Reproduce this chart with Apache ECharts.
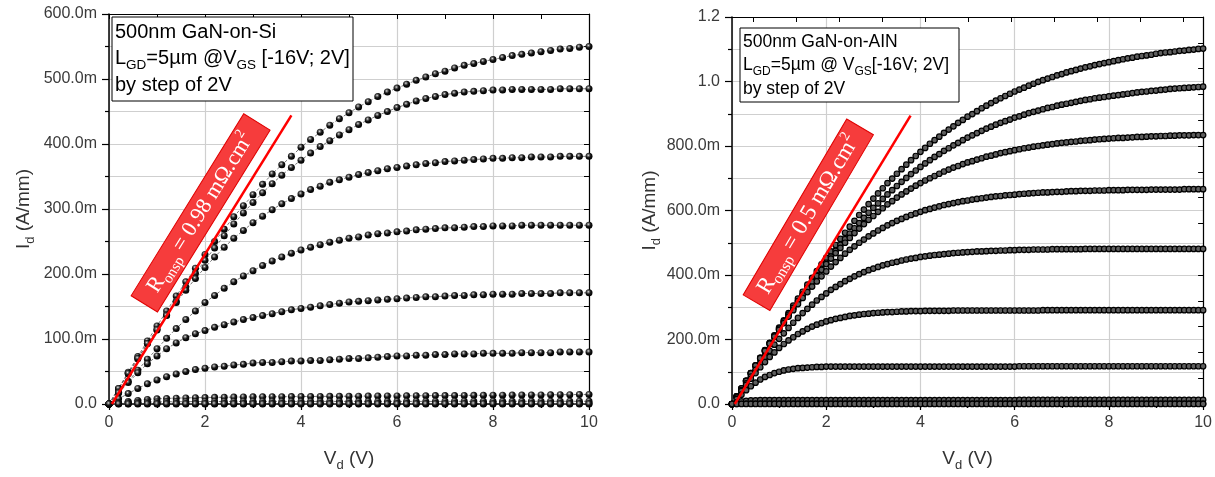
<!DOCTYPE html>
<html><head><meta charset="utf-8">
<script src="https://cdn.jsdelivr.net/npm/echarts@6/dist/echarts.min.js"></script>
<style>html,body{margin:0;padding:0;background:#fff}#c{width:1215px;height:477px}</style>
</head><body><div id="c"></div>
<script>
// ---------- DATA ----------
// Drain voltage sweep (V)
const vdLeft = [0,0.2,0.4,0.6,0.8,1,1.2,1.4,1.6,1.8,2,2.2,2.4,2.6,2.8,3,3.2,3.4,3.6,3.8,4,4.2,4.4,4.6,4.8,5,5.2,5.4,5.6,5.8,6,6.2,6.4,6.6,6.8,7,7.2,7.4,7.6,7.8,8,8.2,8.4,8.6,8.8,9,9.2,9.4,9.6,9.8,10];
const vdRight = [0,0.1,0.2,0.3,0.4,0.5,0.6,0.7,0.8,0.9,1,1.1,1.2,1.3,1.4,1.5,1.6,1.7,1.8,1.9,2,2.1,2.2,2.3,2.4,2.5,2.6,2.7,2.8,2.9,3,3.1,3.2,3.3,3.4,3.5,3.6,3.7,3.8,3.9,4,4.1,4.2,4.3,4.4,4.5,4.6,4.7,4.8,4.9,5,5.1,5.2,5.3,5.4,5.5,5.6,5.7,5.8,5.9,6,6.1,6.2,6.3,6.4,6.5,6.6,6.7,6.8,6.9,7,7.1,7.2,7.3,7.4,7.5,7.6,7.7,7.8,7.9,8,8.1,8.2,8.3,8.4,8.5,8.6,8.7,8.8,8.9,9,9.1,9.2,9.3,9.4,9.5,9.6,9.7,9.8,9.9,10];

// GaN-on-Si, Id (mA/mm), VGS = 2, 0, -2 ... -16 V
const siVgs2   = [0,24,49,73,97,120,143,166,188,209,230,250,269,288,305,322,338,354,368,381,395,407,418,429,439,448,457,465,473,480,486,492,498,503,508,512,517,521,524,527,530,533,536,538,540,542,544,546,547,549,550];
const siVgs0   = [0,23,47,70,93,115,137,158,180,201,221,240,259,277,294,310,325,339,352,364,375,386,396,405,414,422,430,437,444,450,456,461,466,470,473,476,478,480,481,482,483,483,484,484,484,484,484,485,485,485,485];
const siVgsM2  = [0,24,47,70,93,114,136,156,175,193,210,226,241,255,267,279,289,299,308,316,323,330,335,341,345,349,353,356,359,362,364,366,368,370,371,373,374,375,376,377,378,378,379,379,380,380,380,381,381,381,381];
const siVgsM4  = [0,18,35,52,69,85,101,116,130,143,156,167,178,188,197,205,213,220,226,232,237,241,245,249,252,255,257,260,262,263,265,266,268,269,270,271,271,272,273,273,274,274,274,275,275,275,275,275,275,275,275];
const siVgsM6  = [0,17,33,48,62,74,85,94,102,108,113,118,122,126,130,133,136,139,142,145,147,149,151,153,155,157,158,159,160,161,162,163,164,165,165,166,167,167,168,168,169,169,169,170,170,170,170,171,171,171,171];
const siVgsM8  = [0,8,16,24,31,37,42,46,50,53,55,57,58,60,61,63,64,64,65,66,66,67,67,68,69,70,70,71,72,73,74,74,75,75,76,76,77,77,77,78,78,78,78,79,79,79,79,80,80,80,80];
const siVgsM10 = [0,2,4,5.5,7,8,8.6,9,9.4,9.7,10,10.2,10.4,10.6,10.8,11,11.1,11.2,11.3,11.4,11.5,11.6,11.7,11.8,11.9,12,12.1,12.2,12.3,12.4,12.5,12.6,12.7,12.8,12.9,13,13.1,13.2,13.3,13.4,13.5,13.6,13.7,13.8,13.9,14,14.1,14.3,14.4,14.6,14.7];
const siVgsM12 = [0,1.2,2,2.6,3,3.2,3.4,3.5,3.6,3.7,3.8,3.8,3.9,3.9,3.9,4,4,4,4,4,4,4,4,4,4,4,4,4,4,4,4,4,4,4,4,4.1,4.1,4.1,4.1,4.1,4.1,4.1,4.1,4.2,4.2,4.2,4.2,4.2,4.2,4.2,4.2];
const siVgsM14 = [0,0.3,0.5,0.6,0.6,0.6,0.7,0.7,0.7,0.7,0.7,0.7,0.7,0.7,0.7,0.7,0.8,0.8,0.8,0.8,0.8,0.8,0.8,0.8,0.8,0.8,0.8,0.8,0.8,0.8,0.8,0.8,0.8,0.8,0.8,0.8,0.8,0.8,0.8,0.8,0.8,0.8,0.8,0.8,0.8,0.8,0.8,0.8,0.8,0.8,0.8];
const siVgsM16 = [0,0,0,0,0,0,0,0,0,0,0,0,0,0,0,0,0,0,0,0,0,0,0,0,0,0,0,0,0,0,0,0,0,0,0,0,0,0,0,0,0,0,0,0,0,0,0,0,0,0,0];

// GaN-on-AlN, Id (mA/mm)
const alnVgs2   = [0,24,48,72,96,120,143,167,190,213,237,259,282,305,327,348,370,391,412,433,453,473,493,512,531,550,568,586,603,620,637,653,669,685,699,714,728,742,756,769,782,794,807,818,829,841,851,861,872,881,891,899,908,917,925,933,941,948,955,962,969,975,981,987,993,999,1004,1009,1014,1019,1023,1028,1032,1036,1040,1044,1047,1051,1054,1057,1060,1063,1066,1069,1072,1074,1077,1079,1081,1083,1086,1088,1090,1091,1093,1095,1096,1098,1099,1101,1102];
const alnVgs0   = [0,23,47,70,94,117,140,163,186,208,231,253,275,296,318,339,359,380,399,419,438,457,475,493,511,528,545,561,577,593,608,622,636,650,663,676,689,701,713,724,735,746,756,766,775,785,793,802,810,818,826,833,840,847,854,860,866,872,877,882,888,892,897,902,906,910,914,918,921,925,928,931,934,937,940,943,945,948,950,952,954,956,958,960,962,964,966,968,969,971,972,974,975,977,978,979,980,981,982,983,984];
const alnVgsM2  = [0,24,48,72,96,119,143,166,189,211,234,256,277,298,319,339,359,379,397,416,434,451,468,484,500,515,530,544,558,571,583,596,607,619,629,640,650,659,668,677,685,693,700,707,714,721,727,733,738,744,749,753,758,762,767,770,774,778,781,784,787,790,793,795,798,800,802,804,806,808,810,811,813,814,816,817,818,820,821,822,823,824,825,825,826,827,828,828,829,830,830,831,831,832,832,833,833,833,834,834,834];
const alnVgsM4  = [0,24,48,72,95,119,142,165,187,209,230,251,271,291,310,329,347,364,380,396,411,426,440,453,466,478,489,500,510,520,529,538,546,554,561,568,574,580,586,591,596,601,605,609,613,617,620,623,626,629,631,634,636,638,640,642,644,645,647,648,649,651,652,653,654,655,656,656,657,658,658,659,660,660,661,661,661,662,662,662,663,663,663,663,664,664,664,664,664,665,665,665,665,665,665,665,666,666,666,666,666];
const alnVgsM6  = [0,21,43,64,85,106,126,146,165,184,202,219,236,252,267,282,295,308,321,332,343,354,363,372,381,388,396,403,409,415,420,425,430,434,438,441,445,448,451,453,456,458,460,462,463,465,466,468,469,470,471,472,473,473,474,475,475,476,476,477,477,478,478,478,479,479,479,479,480,480,480,480,480,480,480,481,481,481,481,481,481,481,481,481,481,481,481,481,481,481,481,481,481,481,481,481,481,481,481,481,481];
const alnVgsM8  = [0,20,40,59,78,96,114,130,146,160,174,186,197,207,217,225,233,240,246,251,256,260,264,267,270,273,275,277,279,280,282,283,284,285,285,286,287,287,288,288,288,289,289,289,289,289,289,290,290,290,290,290,290,290,290,290,290,290,290,290,290,290,290,290,290,290,291,291,291,291,291,291,291,291,291,291,291,291,291,291,291,291,291,291,291,291,291,291,291,291,291,291,291,291,291,291,291,291,291,291,291];
const alnVgsM10 = [0,15,29,43,55,66,76,84,90,96,100,104,107,109,111,112,113,114,115,115,116,116,116,116,116,116,116,116,116,116,116,116,116,116,116,116,116,116,116,116,116,116,116,116,116,116,116,116,116,116,116,116,116,116,116,116,116,116,116,116,116,117,117,117,117,117,117,117,117,117,117,117,117,117,117,117,117,117,117,117,117,117,117,117,117,117,117,117,117,117,117,117,117,117,117,117,117,117,117,117,117];
const alnVgsM12 = [0,5,8,10,11,11.5,12,12,12,12,12,12,12,12,12,12,12,12,12,12,12,12,12,12,12,12,12,12,12,12,12,12,12,12,12,12,12,12,12,12,12,12,12,12,12,12,12,12,12,12,12,12,12,12,12,12,12,12,12,12,12,12.5,12.5,12.5,12.5,12.5,12.5,12.5,12.5,12.5,12.5,12.5,12.5,12.5,12.5,12.5,12.5,12.5,12.5,12.5,12.5,13,13,13,13,13,13,13,13,13,13,13,13,13,13,13,13,13,13,13,13];
const alnVgsM14 = [0,0.5,0.8,1,1,1,1,1,1,1,1,1,1,1,1,1,1,1,1,1,1,1,1,1,1,1,1,1,1,1,1,1,1,1,1,1,1,1,1,1,1,1,1,1,1,1,1,1,1,1,1,1,1,1,1,1,1,1,1,1,1,1,1,1,1,1,1,1,1,1,1,1,1,1,1,1,1,1,1,1,1,1,1,1,1,1,1,1,1,1,1,1,1,1,1,1,1,1,1,1,1];
const alnVgsM16 = [0,0,0,0,0,0,0,0,0,0,0,0,0,0,0,0,0,0,0,0,0,0,0,0,0,0,0,0,0,0,0,0,0,0,0,0,0,0,0,0,0,0,0,0,0,0,0,0,0,0,0,0,0,0,0,0,0,0,0,0,0,0,0,0,0,0,0,0,0,0,0,0,0,0,0,0,0,0,0,0,0,0,0,0,0,0,0,0,0,0,0,0,0,0,0,0,0,0,0,0,0];

// Ron,sp guide lines [Vd, Id(mA/mm)]
const ronLineSi  = [[0.06, 0], [3.8, 444]];
const ronLineAlN = [[0.06, 0], [3.79, 894]];

// Tick labels
const xTickLabels      = ['0', '2', '4', '6', '8', '10'];
const siYTickLabels    = ['0.0', '100.0m', '200.0m', '300.0m', '400.0m', '500.0m', '600.0m'];
const alnYTickLabels   = ['0.0', '200.0m', '400.0m', '600.0m', '800.0m', '1.0', '1.2'];
const alnTopTicks      = [0.45, 1.36, 2.28, 3.19, 4.1, 5.02, 5.93, 6.84, 7.75, 8.67, 9.58];

const siCurves  = [siVgs2, siVgs0, siVgsM2, siVgsM4, siVgsM6, siVgsM8, siVgsM10, siVgsM12, siVgsM14, siVgsM16];
const alnCurves = [alnVgs2, alnVgs0, alnVgsM2, alnVgsM4, alnVgsM6, alnVgsM8, alnVgsM10, alnVgsM12, alnVgsM14, alnVgsM16];

// ---------- CHART ----------
const FONT = "'Liberation Sans', Arial, sans-serif";
const SERIF = "'Liberation Serif', 'Times New Roman', serif";
const chart = echarts.init(document.getElementById('c'), null, {renderer: 'canvas'});

const gridLine = {show: true, lineStyle: {color: '#cfcfcf', width: 1.2}};
const nameRich = {
  m: {fontSize: 19, fontFamily: FONT, color: '#333', lineHeight: 26},
  s: {fontSize: 13, fontFamily: FONT, color: '#333', lineHeight: 26, verticalAlign: 'bottom'}
};

function bottomX(gi) {
  return {
    gridIndex: gi, type: 'value', min: 0, max: 10, interval: 2, position: 'bottom',
    axisLine: {show: true, onZero: false, lineStyle: {color: '#000', width: 1.5}},
    axisTick: {show: true, inside: false, length: 6, lineStyle: {color: '#000', width: 1.2}},
    minorTick: {show: true, splitNumber: 2, length: 4, lineStyle: {color: '#000', width: 1.2}},
    splitLine: gridLine,
    axisLabel: {fontSize: 16, fontFamily: FONT, color: '#3a3a3a', margin: 11,
      formatter: v => xTickLabels[Math.round(v / 2)]},
    name: '{m|V}{s|d}{m| (V)}', nameLocation: 'middle', nameGap: 42,
    nameTextStyle: {rich: nameRich}
  };
}
function topX(gi, custom) {
  const ax = {
    gridIndex: gi, type: 'value', min: 0, max: 10, interval: 1, position: 'top',
    axisLine: {show: true, onZero: false, lineStyle: {color: '#000', width: 1.2}},
    axisTick: {show: true, inside: true, length: 5, lineStyle: {color: '#000', width: 1}},
    axisLabel: {show: false}, splitLine: {show: false}
  };
  if (custom) ax.axisTick.customValues = custom;
  return ax;
}
function leftY(gi, max, interval, labels, gap) {
  return {
    gridIndex: gi, type: 'value', min: 0, max: max, interval: interval, position: 'left',
    axisLine: {show: true, onZero: false, lineStyle: {color: '#000', width: 1.5}},
    axisTick: {show: true, inside: false, length: 7, lineStyle: {color: '#000', width: 1.2}},
    minorTick: {show: true, splitNumber: 2, length: 4, lineStyle: {color: '#000', width: 1.2}},
    splitLine: gridLine,
    minorSplitLine: gridLine,
    axisLabel: {fontSize: 16, fontFamily: FONT, color: '#3a3a3a', margin: 12,
      formatter: v => labels[Math.round(v / interval)]},
    name: '{m|I}{s|d}{m| (A/mm)}', nameLocation: 'middle', nameGap: gap, nameRotate: 90,
    nameTextStyle: {rich: nameRich}
  };
}
function rightY(gi, max, interval) {
  return {
    gridIndex: gi, type: 'value', min: 0, max: max, interval: interval, position: 'right',
    axisLine: {show: true, onZero: false, lineStyle: {color: '#000', width: 1.2}},
    axisTick: {show: true, inside: true, length: 5, lineStyle: {color: '#000', width: 1}},
    axisLabel: {show: false}, splitLine: {show: false}
  };
}

const sphere = {
  type: 'radial', x: 0.4, y: 0.35, r: 0.62,
  colorStops: [{offset: 0, color: '#f0f0f0'}, {offset: 0.22, color: '#777'}, {offset: 0.55, color: '#151515'}, {offset: 1, color: '#000'}]
};

const series = [];
siCurves.forEach((arr, k) => {
  series.push({
    type: 'line', xAxisIndex: 0, yAxisIndex: 0, clip: false, silent: true,
    data: vdLeft.map((v, i) => [v, arr[i]]),
    symbol: 'circle', symbolSize: 7,
    itemStyle: {color: sphere, borderWidth: 0},
    lineStyle: {color: '#555', width: 0.8, type: [3, 2]},
    z: 3
  });
});
alnCurves.forEach((arr, k) => {
  series.push({
    type: 'line', xAxisIndex: 2, yAxisIndex: 2, clip: false, silent: true,
    data: vdRight.map((v, i) => [v, arr[i]]),
    symbol: 'circle', symbolSize: 5.5,
    itemStyle: {color: '#5e5e5e', borderColor: '#000', borderWidth: 1.2},
    lineStyle: {color: '#111', width: 0.6},
    z: 3
  });
});
series.push({type: 'line', xAxisIndex: 0, yAxisIndex: 0, data: ronLineSi, symbol: 'none',
  lineStyle: {color: '#ff0000', width: 2.5}, z: 10, silent: true, clip: false});
series.push({type: 'line', xAxisIndex: 2, yAxisIndex: 2, data: ronLineAlN, symbol: 'none',
  lineStyle: {color: '#ff0000', width: 2.5}, z: 10, silent: true, clip: false});

function infoBox(x, y, w, h, lines, fs, sfs) {
  const rich = {
    m: {fontSize: fs, fontFamily: FONT, fill: '#000', lineHeight: fs + 8},
    s: {fontSize: sfs, fontFamily: FONT, fill: '#000', lineHeight: fs + 8, verticalAlign: 'bottom'}
  };
  const children = [{type: 'rect', z: 50, shape: {x: 0, y: 0, width: w, height: h},
    style: {fill: '#fff', stroke: '#000', lineWidth: 1}}];
  lines.forEach(l => {
    children.push({type: 'text', z: 51, x: 3, y: l.y,
      style: {text: l.t, rich: rich, fill: '#000', fontSize: fs, fontFamily: FONT,
        align: 'left', verticalAlign: 'middle', textAlign: 'left', textVerticalAlign: 'middle'}});
  });
  return {type: 'group', x: x, y: y, z: 50, children: children};
}
function ronLabel(cx, cy, len, deg, txt, fs) {
  const rich = {
    r: {fontSize: fs, fontFamily: SERIF, fill: '#fff', lineHeight: 30},
    s: {fontSize: fs * 0.68, fontFamily: SERIF, fill: '#fff', lineHeight: 30, verticalAlign: 'bottom'},
    p: {fontSize: fs * 0.62, fontFamily: SERIF, fill: '#fff', lineHeight: 30, verticalAlign: 'top'}
  };
  return {type: 'group', x: cx, y: cy, rotation: deg * Math.PI / 180, z: 60, children: [
    {type: 'rect', z: 60, shape: {x: -len / 2, y: -15.5, width: len, height: 31},
      style: {fill: '#f63c3c', stroke: '#e00000', lineWidth: 1}},
    {type: 'text', z: 61, x: 0, y: 0, style: {text: txt, rich: rich, fill: '#fff',
      align: 'center', verticalAlign: 'middle', textAlign: 'center', textVerticalAlign: 'middle'}}
  ]};
}

chart.setOption({
  animation: false,
  backgroundColor: '#fff',
  textStyle: {fontFamily: FONT},
  grid: [
    {left: 109, top: 14, width: 480, height: 394},
    {left: 732, top: 17, width: 472, height: 390}
  ],
  xAxis: [bottomX(0), topX(0), bottomX(1), topX(1, alnTopTicks)],
  yAxis: [leftY(0, 600, 100, siYTickLabels, 72), rightY(0, 600, 50),
          leftY(1, 1200, 200, alnYTickLabels, 64), rightY(1, 1200, 80)],
  series: series,
  graphic: [
    infoBox(112, 17, 241, 84, [
      {y: 15, t: '{m|500nm GaN-on-Si}'},
      {y: 41, t: '{m|L}{s|GD}{m|=5µm @V}{s|GS}{m| [-16V; 2V]}'},
      {y: 68, t: '{m|by step of 2V}'}
    ], 20, 13.5),
    infoBox(740, 28, 219, 74, [
      {y: 14, t: '{m|500nm GaN-on-AIN}'},
      {y: 37, t: '{m|L}{s|GD}{m|=5µm @ V}{s|GS}{m|[-16V; 2V]}'},
      {y: 61, t: '{m|by step of 2V}'}
    ], 17.5, 12),
    ronLabel(200.6, 212.9, 214, 58.25, '{r|R}{s|onsp}{r| = 0.98 mΩ.cm}{p|2}', 22),
    ronLabel(808.3, 214.8, 204, 59.5, '{r|R}{s|onsp}{r| = 0.5 mΩ.cm}{p|2}', 23)
  ]
});
</script></body></html>
